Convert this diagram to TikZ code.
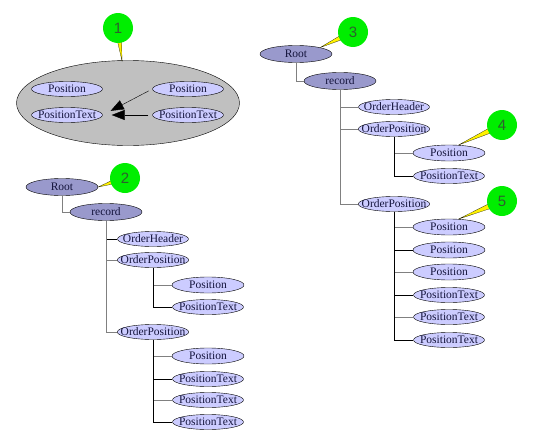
\documentclass[tikz,border=0pt]{standalone}
\usepackage{fontspec}
\setmainfont{Liberation Serif}
\newfontfamily\numfont{Liberation Sans}
\usetikzlibrary{shapes.geometric,arrows.meta,calc}

\definecolor{darklav}{RGB}{153,153,204}
\definecolor{lightlav}{RGB}{204,204,255}
\definecolor{grpgray}{RGB}{192,192,192}
\definecolor{callgreen}{RGB}{0,238,0}
\definecolor{numgreen}{RGB}{45,95,45}
\definecolor{branchgray}{RGB}{128,128,128}
\definecolor{labelink}{RGB}{20,20,60}

\begin{document}
\begin{tikzpicture}
            [x=1pt, y=-1pt,
             topnode/.style={ellipse, draw, thin, fill=darklav, minimum width=72pt,
               minimum height=17pt, inner xsep=-7pt, inner ysep=-0.5pt, text=labelink,
               font=\fontsize{11.5}{12}\selectfont},
             leaf/.style={topnode, fill=lightlav, minimum width=71pt, minimum height=15pt},
             posleaf/.style={leaf, minimum width=72pt, minimum height=16pt},
             grp/.style={ellipse, draw, thin, fill=grpgray, minimum width=223pt, minimum height=85pt},
             callout/.style={circle, fill=callgreen, minimum size=30pt, inner sep=0pt,
               text=numgreen, font=\numfont\fontsize{15}{15}\selectfont},
             tail/.style={fill=yellow, draw=black, very thin},
             branch/.style={draw=branchgray, thin},
             branchdark/.style={draw=black, thin},
             grparrow/.style={-{Triangle[length=13pt,width=10pt]}, thin, shorten <=4pt, shorten >=9pt}]
            \useasboundingbox (0,0) rectangle (535,439);

            % Group of nodes (1)
            \node[grp] (grp) at (128,103) {};
            \node[leaf] (pos1l) at (67,89) {Position};
            \node[leaf] (pt1l) at (67,115) {PositionText};
            \node[leaf] (pos1r) at (188,89) {Position};
            \node[leaf] (pt1r) at (188,115) {PositionText};
            \draw[grparrow] (pos1r.west) -- (pt1l.east);
            \draw[grparrow] (pt1r.west) -- (pt1l.east);

            % Left tree (2)
            \node[topnode] (root2) at (62,187) {Root};
            \node[topnode] (rec2) at (106,212) {record};
            \node[leaf] (oh2) at (153,239) {OrderHeader};
            \node[leaf] (op2a) at (153,260) {OrderPosition};
            \node[posleaf] (pos2a) at (208,285) {Position};
            \node[leaf] (pt2a) at (208,307) {PositionText};
            \node[leaf] (op2b) at (153,332) {OrderPosition};
            \node[posleaf] (pos2b) at (208,356) {Position};
            \node[leaf] (pt2b) at (208,379) {PositionText};
            \node[leaf] (pt2c) at (208,400) {PositionText};
            \node[leaf] (pt2d) at (208,422) {PositionText};

            \draw[branch] (root2.south) |- (rec2.west);
            \draw[branchdark] (rec2.south) |- (oh2.west);
            \draw[branch] (rec2.south) |- (op2a.west);
            \draw[branch] (rec2.south) |- (op2b.west);
            \draw[branch] (op2a.south) |- (pos2a.west);
            \draw[branchdark] (op2a.south) |- (pt2a.west);
            \draw[branch] (op2b.south) |- (pos2b.west);
            \draw[branchdark] (op2b.south) |- (pt2b.west);
            \draw[branch] (op2b.south) |- (pt2c.west);
            \draw[branchdark] (op2b.south) |- (pt2d.west);

            % Right tree (3)
            \node[topnode] (root3) at (296,54) {Root};
            \node[topnode] (rec3) at (340,81) {record};
            \node[leaf] (oh3) at (394,107) {OrderHeader};
            \node[leaf] (op3a) at (394,129) {OrderPosition};
            \node[posleaf] (pos3a) at (449,153) {Position};
            \node[leaf] (pt3a) at (449,176) {PositionText};
            \node[leaf] (op3b) at (394,204) {OrderPosition};
            \node[posleaf] (pos3b) at (449,227) {Position};
            \node[posleaf] (pos3c) at (449,250) {Position};
            \node[posleaf] (pos3d) at (449,272) {Position};
            \node[leaf] (pt3b) at (449,295) {PositionText};
            \node[leaf] (pt3c) at (449,317) {PositionText};
            \node[leaf] (pt3d) at (449,340) {PositionText};

            \draw[branch] (root3.south) |- (rec3.west);
            \draw[branch] (rec3.south) |- (oh3.west);
            \draw[branch] (rec3.south) |- (op3a.west);
            \draw[branch] (rec3.south) |- (op3b.west);
            \draw[branch] (op3a.south) |- (pos3a.west);
            \draw[branchdark] (op3a.south) |- (pt3a.west);
            \draw[branch] (op3b.south) |- (pos3b.west);
            \draw[branchdark] (op3b.south) |- (pos3c.west);
            \draw[branch] (op3b.south) |- (pos3d.west);
            \draw[branchdark] (op3b.south) |- (pt3b.west);
            \draw[branch] (op3b.south) |- (pt3c.west);
            \draw[branchdark] (op3b.south) |- (pt3d.west);

            % Callouts
            \coordinate (t1) at (122,61);
            \coordinate (c1) at (118,28);
            \coordinate (c2) at (125,178);
            \coordinate (c3) at (353,32);
            \coordinate (c4) at (502,125);
            \coordinate (c5) at (502,201);
            \filldraw[tail] ($(c1)!3.5pt!90:(t1)$) -- (t1) -- ($(c1)!3.5pt!-90:(t1)$) -- cycle;
            \filldraw[tail] ($(c2)!3.5pt!90:(root2.east)$) -- (root2.east) -- ($(c2)!3.5pt!-90:(root2.east)$) -- cycle;
            \filldraw[tail] ($(c3)!3.5pt!90:(root3.15)$) -- (root3.15) -- ($(c3)!3.5pt!-90:(root3.15)$) -- cycle;
            \filldraw[tail] ($(c4)!3.5pt!90:(pos3a.40)$) -- (pos3a.40) -- ($(c4)!3.5pt!-90:(pos3a.40)$) -- cycle;
            \filldraw[tail] ($(c5)!3.5pt!90:(pos3b.40)$) -- (pos3b.40) -- ($(c5)!3.5pt!-90:(pos3b.40)$) -- cycle;
            \node[callout] (n1) at (c1) {1};
            \node[callout] (n2) at (c2) {2};
            \node[callout] (n3) at (c3) {3};
            \node[callout] (n4) at (c4) {4};
            \node[callout] (n5) at (c5) {5};
        \end{tikzpicture}
\end{document}
